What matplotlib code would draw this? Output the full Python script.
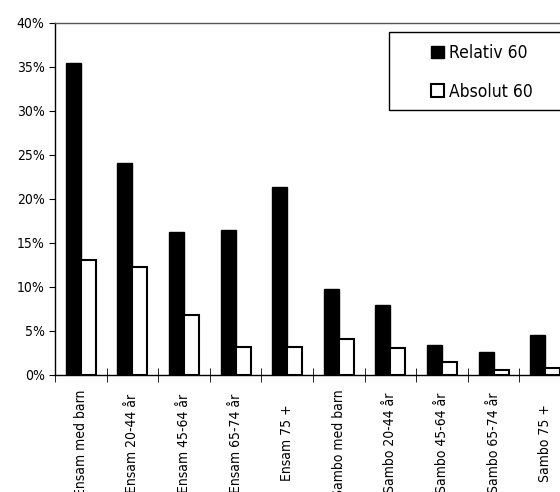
import matplotlib.pyplot as plt
import matplotlib.patches as mpatches
import numpy as np

kategorier = ['Ensam med barn', 'Ensam 20-44 år', 'Ensam 45-64 år', 'Ensam 65-74 år',
              'Ensam 75 +', 'Sambo med barn', 'Sambo 20-44 år', 'Sambo 45-64 år',
              'Sambo 65-74 år', 'Sambo 75 +']
relativ = [35.4, 24.1, 16.25, 16.5, 21.4, 9.8, 7.95, 3.4, 2.6, 4.5]
absolut = [13.1, 12.3, 6.8, 3.2, 3.2, 4.1, 3.1, 1.5, 0.6, 0.8]

plt.rcParams['font.family'] = ['DejaVu Sans']
plt.rcParams['font.stretch'] = 'condensed'

fig = plt.figure(figsize=(5.6, 4.92), dpi=100)
ax = fig.add_axes([55/560, 117/492, 516/560, 352/492])

x = np.arange(len(kategorier))
w = 0.29
ax.bar(x - w/2, relativ, w, color='black', edgecolor='black', label='Relativ 60')
ax.bar(x + w/2, absolut, w, color='white', edgecolor='black', linewidth=1.5, label='Absolut 60')

ax.set_xlim(-0.5, len(kategorier) - 0.5)
ax.set_ylim(0, 40)
ax.set_yticks(range(0, 41, 5))
ax.set_yticklabels([f'{v}%' for v in range(0, 41, 5)], fontsize=10)
ax.set_xticks(x)
ax.set_xticklabels(kategorier, rotation=90, fontsize=10, va='center')
ax.set_xticks(np.arange(-0.5, len(kategorier)), minor=True)
ax.tick_params(axis='x', which='major', length=0, pad=49)
ax.tick_params(axis='x', which='minor', direction='inout', length=10)
ax.tick_params(axis='y', direction='out', length=4)

for s in ax.spines.values():
    s.set_linewidth(1)
ax.spines['top'].set_color('#555555')

# legend frame runs past the right edge like in the original
ram = mpatches.Rectangle(((389 - 55) / 516, (375 - 110) / 352), 0.5, 78 / 352,
                         transform=ax.transAxes, facecolor='white', edgecolor='black',
                         linewidth=1, zorder=4, clip_on=False)
ax.add_patch(ram)
leg = ax.legend(loc='upper left', bbox_to_anchor=((431 - 55) / 516, (375 - 44) / 352), fontsize=12.5,
                frameon=False, handlelength=0.75, handleheight=0.75, handletextpad=0.3,
                labelspacing=1.2, borderpad=0, borderaxespad=0)
leg.set_zorder(5)

fig.savefig('out.png', dpi=100)
